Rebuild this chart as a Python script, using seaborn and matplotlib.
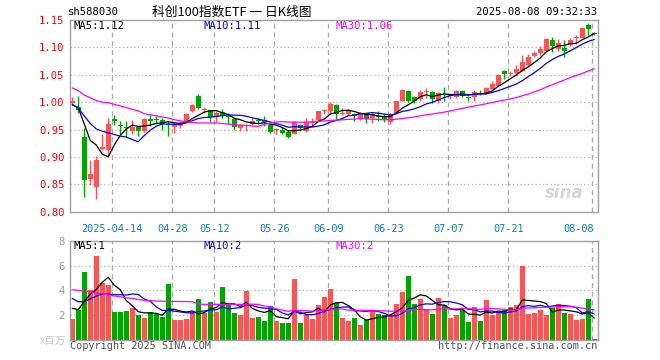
import numpy as np
import pandas as pd
import matplotlib
matplotlib.use("Agg")
import matplotlib.pyplot as plt
import matplotlib.transforms as mtrans
import seaborn as sns

# ---------------- data ----------------
holidays = ["2025-04-04", "2025-05-01", "2025-05-02", "2025-05-05", "2025-06-02"]
dates = [d for d in pd.bdate_range("2025-04-02", "2025-08-08")
         if d.strftime("%Y-%m-%d") not in holidays]

open_ = [0.998, 0.992, 0.937, 0.859, 0.846, 0.914, 0.913, 0.970, 0.959, 0.954,
         0.948, 0.955, 0.947, 0.970, 0.969, 0.968, 0.960, 0.954, 0.956, 0.966,
         0.984, 1.012, 0.985, 0.985, 0.974, 0.982, 0.975, 0.970, 0.952, 0.957,
         0.960, 0.967, 0.967, 0.959, 0.949, 0.950, 0.945, 0.942, 0.958, 0.948,
         0.962, 0.967, 0.984, 0.983, 0.995, 0.979, 0.978, 0.979, 0.969, 0.980,
         0.971, 0.974, 0.973, 0.963, 0.980, 1.003, 1.021, 1.009, 1.005, 1.019,
         1.019, 1.002, 1.014, 1.012, 1.010, 1.020, 1.009, 1.009, 1.019, 1.016,
         1.024, 1.030, 1.056, 1.051, 1.053, 1.057, 1.067, 1.085, 1.090, 1.094,
         1.114, 1.097, 1.099, 1.105, 1.117, 1.118, 1.140, 1.127]
close = [1.003, 0.985, 0.857, 0.869, 0.895, 0.919, 0.961, 0.965, 0.957, 0.953,
         0.955, 0.948, 0.970, 0.965, 0.968, 0.960, 0.959, 0.959, 0.960, 0.978,
         0.994, 0.989, 0.988, 0.972, 0.980, 0.974, 0.973, 0.954, 0.959, 0.959,
         0.966, 0.966, 0.963, 0.945, 0.950, 0.944, 0.936, 0.964, 0.952, 0.963,
         0.963, 0.983, 0.985, 0.997, 0.979, 0.980, 0.985, 0.974, 0.980, 0.969,
         0.978, 0.972, 0.969, 0.979, 1.002, 1.023, 1.003, 1.003, 1.019, 1.020,
         1.006, 1.017, 1.013, 1.013, 1.020, 1.012, 1.008, 1.019, 1.018, 1.025,
         1.033, 1.050, 1.051, 1.054, 1.060, 1.074, 1.083, 1.090, 1.097, 1.116,
         1.103, 1.108, 1.094, 1.114, 1.118, 1.136, 1.134, 1.125]
high = [1.010, 1.012, 0.953, 0.894, 0.902, 0.941, 0.971, 0.977, 0.966, 0.965,
        0.968, 0.957, 0.971, 0.977, 0.974, 0.971, 0.966, 0.964, 0.966, 0.980,
        0.996, 1.014, 0.991, 0.986, 0.983, 0.988, 0.980, 0.971, 0.961, 0.961,
        0.971, 0.971, 0.974, 0.962, 0.953, 0.955, 0.950, 0.965, 0.960, 0.971,
        0.971, 0.984, 0.987, 1.001, 0.997, 0.989, 0.987, 0.981, 0.982, 0.981,
        0.980, 0.983, 0.978, 0.981, 1.003, 1.024, 1.023, 1.011, 1.022, 1.025,
        1.021, 1.018, 1.027, 1.017, 1.022, 1.022, 1.012, 1.023, 1.022, 1.028,
        1.038, 1.051, 1.059, 1.057, 1.067, 1.086, 1.088, 1.094, 1.102, 1.118,
        1.119, 1.116, 1.114, 1.117, 1.122, 1.138, 1.144, 1.128]
low = [0.996, 0.980, 0.826, 0.849, 0.823, 0.912, 0.904, 0.959, 0.941, 0.936,
       0.941, 0.939, 0.945, 0.957, 0.960, 0.950, 0.939, 0.944, 0.952, 0.964,
       0.982, 0.988, 0.980, 0.964, 0.963, 0.971, 0.960, 0.950, 0.948, 0.947,
       0.958, 0.960, 0.956, 0.943, 0.941, 0.941, 0.934, 0.941, 0.948, 0.945,
       0.956, 0.965, 0.978, 0.980, 0.969, 0.976, 0.976, 0.965, 0.967, 0.962,
       0.962, 0.965, 0.963, 0.961, 0.979, 1.002, 1.000, 0.999, 1.002, 1.008,
       0.999, 0.999, 1.002, 1.005, 1.008, 1.010, 1.002, 1.002, 1.013, 1.014,
       1.021, 1.029, 1.043, 1.048, 1.050, 1.056, 1.065, 1.083, 1.087, 1.093,
       1.091, 1.094, 1.083, 1.103, 1.106, 1.117, 1.123, 1.123]
volume = [1.69, 2.41, 5.47, 4.02, 6.76, 4.61, 4.42, 2.25, 2.25, 2.33,
          2.57, 2.01, 1.77, 2.25, 2.12, 1.85, 4.50, 1.61, 1.61, 1.69,
          2.28, 3.30, 2.17, 3.06, 2.25, 4.26, 2.82, 2.17, 2.01, 3.94,
          1.77, 1.85, 1.53, 2.73, 1.53, 1.37, 1.37, 4.91, 1.37, 2.01,
          1.69, 2.82, 3.46, 4.10, 2.95, 1.80, 1.56, 1.80, 1.23, 1.61,
          2.36, 2.09, 2.01, 2.01, 2.92, 3.89, 5.17, 2.90, 3.30, 2.49,
          2.09, 3.38, 2.82, 1.80, 2.01, 2.41, 1.45, 2.65, 1.53, 3.22,
          2.01, 2.25, 2.41, 2.65, 2.82, 5.98, 2.09, 2.17, 2.41, 2.01,
          2.57, 2.90, 2.17, 2.09, 1.64, 1.69, 3.30, 0.08]

# moving-average values read from the chart where the window is not yet full
ma5_head = [0.995, 0.990, 0.960, 0.930]
ma10_head = [0.996, 0.989, 0.975, 0.961, 0.951, 0.947, 0.944, 0.941, 0.938]
ma30_head = [1.026, 1.021, 1.013, 1.008, 1.003, 1.000, 0.999, 0.996, 0.993, 0.990,
             0.987, 0.984, 0.979, 0.977, 0.975, 0.973, 0.971, 0.968, 0.966, 0.964,
             0.963, 0.962, 0.962, 0.962, 0.962, 0.961, 0.960, 0.959, 0.958]
vma5_head = [2.55, 2.45, 3.10, 3.70]
vma10_head = [3.35, 3.08, 3.08, 3.32, 3.54, 3.70, 3.70, 3.65, 3.65]
vma30_head = [4.05, 4.00, 3.95, 3.90, 3.80, 3.72, 3.65, 3.55, 3.48, 3.40,
              3.35, 3.26, 3.20, 3.17, 3.14, 3.13, 3.12, 3.11, 3.10, 3.10,
              3.08, 2.90, 2.87, 2.87, 2.87, 2.87, 2.87, 2.87, 2.87]

tick_dates = ["2025-04-14", "2025-04-28", "2025-05-12", "2025-05-26", "2025-06-09",
              "2025-06-23", "2025-07-07", "2025-07-21", "2025-08-08"]
tick_labels = ["2025-04-14", "04-28", "05-12", "05-26", "06-09",
               "06-23", "07-07", "07-21", "08-08"]
price_ticks = [0.80, 0.85, 0.90, 0.95, 1.00, 1.05, 1.10, 1.15]
vol_ticks = [2, 4, 6, 8]

ma_texts = ["MA5:1.12", "MA10:1.11", "MA30:1.06"]
vma_texts = ["MA5:1", "MA10:2", "MA30:2"]

# ---------------- helpers ----------------
def moving_avg(values, n, head):
    s = pd.Series(values, dtype=float).rolling(n).mean().to_numpy()
    s[:len(head)] = head
    return s

RED = "#FF5252"
GREEN = "#00A600"
MONO = "DejaVu Sans Mono"

sns.set_theme(style="white")
plt.rcParams["font.family"] = [MONO, "Noto Sans CJK SC"]

idx = np.arange(len(close))
o = np.array(open_); c = np.array(close); h = np.array(high); l = np.array(low)
up = c >= o
colors = np.where(up, RED, GREEN)

W, H = 660, 360
fig = plt.figure(figsize=(6.6, 3.6), dpi=100)
fig.patch.set_facecolor("white")

def px_axes(x0, y0, x1, y1):
    return fig.add_axes([x0 / W, 1 - y1 / H, (x1 - x0) / W, (y1 - y0) / H])

ax = px_axes(70, 20, 598, 211.7)
axv = px_axes(70, 240.7, 598, 340)

xlim = (-0.38, 87.62)
date_str = [d.strftime("%Y-%m-%d") for d in dates]
tick_idx = [date_str.index(t) for t in tick_dates]
grid_x = [t - 1 / 3 for t in tick_idx]

for a in (ax, axv):
    a.set_facecolor("white")
    a.set_xlim(*xlim)
    for sp in a.spines.values():
        sp.set_color("#A0A0A0")
        sp.set_linewidth(1.0)
    for gx in grid_x:
        a.axvline(gx, color="#A8A8A8", lw=0.9, ls=(0, (4, 3)), zorder=0)
    a.set_xticks([])
    a.tick_params(axis="y", length=0, pad=4)

# ---- price panel ----
ax.set_ylim(0.80, 1.15)
ax.set_yticks(price_ticks)
ax.set_yticklabels([f"{v:.2f}" for v in price_ticks], color="#FF0000",
                   fontsize=7.6, family=MONO)
for v in price_ticks[1:-1]:
    ax.axhline(v, color="#B0B0B0", lw=0.9, ls=(0, (1, 2)), zorder=0)

ax.vlines(idx, l, h, colors=colors, lw=1.0, zorder=2)
body_h = np.maximum(np.abs(c - o), 0.0012)
ax.bar(idx, body_h, bottom=np.minimum(o, c), width=0.8, color=colors,
       linewidth=0, zorder=3)

ma_colors = ["black", "#0000FF", "#FF00FF"]
for n, head, col in zip([5, 10, 30], [ma5_head, ma10_head, ma30_head], ma_colors):
    sns.lineplot(x=idx, y=moving_avg(close, n, head), ax=ax, color=col,
                 lw=0.9, legend=False, zorder=4)
ax.set_xlabel(""); ax.set_ylabel("")

for txt, col, xp in zip(ma_texts, ma_colors, [74, 204, 335]):
    fig.text(xp / W, 1 - 26 / H, txt, color=col, fontsize=7.6, family=MONO,
             ha="left", va="center")

# x tick labels
for k, (gx, lab) in enumerate(zip(grid_x, tick_labels)):
    if k == len(tick_labels) - 1:
        xpos, ha = tick_idx[k] - 0.05, "right"
    else:
        xpos, ha = gx, "center"
    trans = mtrans.blended_transform_factory(ax.transData, fig.transFigure)
    ax.text(xpos, 1 - 229 / H, lab, transform=trans, ha=ha, va="center",
            color="#0A7FC8", fontsize=7.4, family=MONO)

# sina watermark
ax.text(0.972, 0.10, "sina", transform=ax.transAxes, ha="right", va="center",
        fontsize=12, fontstyle="italic", fontweight="bold", color="#D6D6D6",
        family="DejaVu Sans", zorder=1)

# ---- volume panel ----
axv.set_ylim(0, 8)
axv.set_yticks(vol_ticks)
axv.set_yticklabels([str(v) for v in vol_ticks], color="#999999",
                    fontsize=7.6, family=MONO)
for v in vol_ticks[:-1]:
    axv.axhline(v, color="#B0B0B0", lw=0.9, ls=(0, (1, 2)), zorder=0)
axv.bar(idx, volume, width=0.8, color=colors, linewidth=0, zorder=2)
for n, head, col in zip([5, 10, 30], [vma5_head, vma10_head, vma30_head], ma_colors):
    sns.lineplot(x=idx, y=moving_avg(volume, n, head), ax=axv, color=col,
                 lw=0.9, legend=False, zorder=4)
axv.set_xlabel(""); axv.set_ylabel("")
for txt, col, xp in zip(vma_texts, ma_colors, [74, 204, 335]):
    fig.text(xp / W, 1 - 246 / H, txt, color=col, fontsize=7.6, family=MONO,
             ha="left", va="center")

# ---- header / footer ----
fig.text(68 / W, 1 - 12 / H, "sh588030", fontsize=7.6, family=MONO,
         ha="left", va="center", color="black")
fig.text(232 / W, 1 - 12 / H, "科创100指数ETF 一 日K线图", fontsize=9.2,
         family=["Noto Sans CJK SC", MONO], ha="center", va="center", color="black")
fig.text(597 / W, 1 - 12 / H, "2025-08-08 09:32:33", fontsize=7.6, family=MONO,
         ha="right", va="center", color="black")
fig.text(66 / W, 1 - 341 / H, "x百万", fontsize=7.6,
         family=["Noto Sans CJK SC", MONO], ha="right", va="center", color="#C8C8C8")
fig.text(70 / W, 1 - 346 / H, "Copyright 2025 SINA.COM", fontsize=7.4,
         family=MONO, ha="left", va="center", color="#555555")
fig.text(597 / W, 1 - 346 / H, "http://finance.sina.com.cn", fontsize=7.4,
         family=MONO, ha="right", va="center", color="#555555")

fig.savefig("out.png", dpi=100, facecolor="white")
